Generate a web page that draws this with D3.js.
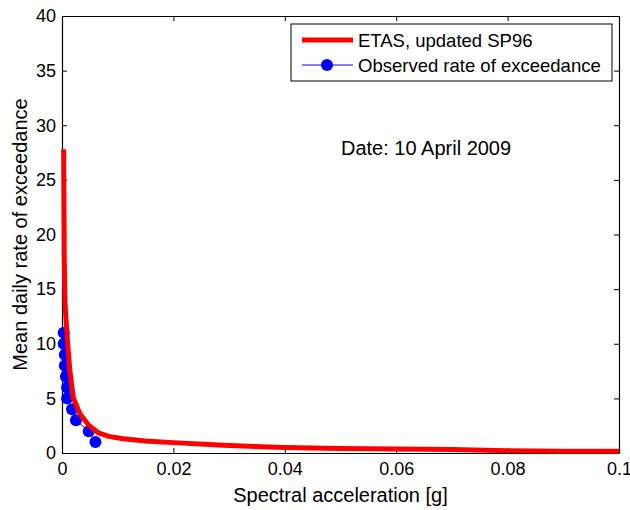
<!DOCTYPE html>
<html>
<head>
<meta charset="utf-8">
<script src="https://cdn.jsdelivr.net/npm/d3@7"></script>
<style>
  body { margin: 0; background: #fff; }
  text { font-family: "Liberation Sans", Arial, sans-serif; fill: #000; }
</style>
</head>
<body>
<script>
// ETAS curve (red)
const etasX = [0.0003, 0.0004, 0.00054, 0.00093, 0.0014, 0.002, 0.0032, 0.0047, 0.0065, 0.0086, 0.011, 0.015, 0.02, 0.029, 0.04, 0.05, 0.06, 0.07, 0.08, 0.09, 0.1];
const etasY = [27.8, 18, 13.7, 10.6, 7.6, 5.1, 3.6, 2.6, 1.85, 1.5, 1.3, 1.1, 0.95, 0.7, 0.5, 0.42, 0.36, 0.32, 0.2, 0.17, 0.15];

// observed rate (blue points)
const obsX = [0.0003, 0.0003, 0.0005, 0.0005, 0.0007, 0.0009, 0.0009, 0.0018, 0.0025, 0.0048, 0.006];
const obsY = [11, 10, 9, 8, 7, 6, 5, 4, 3, 2, 1];

const xTicks = [0, 0.02, 0.04, 0.06, 0.08, 0.1];
const yTicks = [0, 5, 10, 15, 20, 25, 30, 35, 40];

const seriesNames = ["ETAS, updated SP96", "Observed rate of exceedance"];
const dateLabel = "Date: 10 April 2009";

const W = 630, H = 510;
const MARGIN = { TOP: 16, BOTTOM: 57, LEFT: 62, RIGHT: 11 };

const svg = d3.select("body").append("svg")
    .attr("width", W)
    .attr("height", H);

const x = d3.scaleLinear().domain([0, 0.1]).range([MARGIN.LEFT, W - MARGIN.RIGHT]);
const y = d3.scaleLinear().domain([0, 40]).range([H - MARGIN.BOTTOM, MARGIN.TOP]);

const fmtX = d => d === 0 ? "0" : String(+d.toFixed(2));

// axes, ticks pointing inward (box like matlab)
const tickLen = 5;
svg.append("g")
    .attr("transform", `translate(0,${y(0)})`)
    .call(d3.axisBottom(x).tickValues(xTicks).tickSize(-tickLen).tickSizeOuter(0).tickPadding(9).tickFormat(fmtX));
svg.append("g")
    .attr("transform", `translate(0,${y(40)})`)
    .call(d3.axisTop(x).tickValues(xTicks).tickSize(-tickLen).tickSizeOuter(0).tickFormat(""));
svg.append("g")
    .attr("transform", `translate(${x(0)},0)`)
    .call(d3.axisLeft(y).tickValues(yTicks).tickSize(-tickLen).tickSizeOuter(0).tickPadding(6));
svg.append("g")
    .attr("transform", `translate(${x(0.1)},0)`)
    .call(d3.axisRight(y).tickValues(yTicks).tickSize(-tickLen).tickSizeOuter(0).tickFormat(""));

svg.selectAll(".domain").attr("stroke", "#000").attr("stroke-width", 1.2);
svg.selectAll(".tick line").attr("stroke", "#000");
svg.selectAll(".tick text")
    .style("font-family", "Liberation Sans, Arial, sans-serif")
    .style("font-size", "18px")
    .attr("fill", "#000");

// blue observed line + markers
const obs = obsX.map((v, i) => [v, obsY[i]]);
svg.append("path")
    .datum(obs)
    .attr("fill", "none")
    .attr("stroke", "#0000ff")
    .attr("stroke-width", 1)
    .attr("d", d3.line().x(d => x(d[0])).y(d => y(d[1])));
svg.append("g").selectAll("circle")
    .data(obs)
    .enter()
    .append("circle")
    .attr("cx", d => x(d[0]))
    .attr("cy", d => y(d[1]))
    .attr("r", 6)
    .attr("fill", "#0000ff");

// red ETAS line
const etas = etasX.map((v, i) => [v, etasY[i]]);
svg.append("path")
    .datum(etas)
    .attr("fill", "none")
    .attr("stroke", "#ff0000")
    .attr("stroke-width", 5)
    .attr("stroke-linejoin", "round")
    .attr("d", d3.line().x(d => x(d[0])).y(d => y(d[1])));

// axis labels
svg.append("text")
    .attr("x", (x(0) + x(0.1)) / 2)
    .attr("y", 502)
    .attr("text-anchor", "middle")
    .style("font-size", "20px")
    .text("Spectral acceleration [g]");
svg.append("text")
    .attr("transform", `translate(27,${(y(0) + y(40)) / 2}) rotate(-90)`)
    .attr("text-anchor", "middle")
    .style("font-size", "20px")
    .text("Mean daily rate of exceedance");

// date annotation
svg.append("text")
    .attr("x", 341)
    .attr("y", 155)
    .style("font-size", "20px")
    .text(dateLabel);

// legend
const leg = svg.append("g");
leg.append("rect")
    .attr("x", 291).attr("y", 24)
    .attr("width", 321).attr("height", 57)
    .attr("fill", "#fff").attr("stroke", "#000").attr("stroke-width", 1);
leg.append("line")
    .attr("x1", 302).attr("x2", 353).attr("y1", 40).attr("y2", 40)
    .attr("stroke", "#ff0000").attr("stroke-width", 5);
leg.append("text").attr("x", 358).attr("y", 47).style("font-size", "18.5px").text(seriesNames[0]);
leg.append("line")
    .attr("x1", 302).attr("x2", 353).attr("y1", 65).attr("y2", 65)
    .attr("stroke", "#0000ff").attr("stroke-width", 1);
leg.append("circle").attr("cx", 327).attr("cy", 65).attr("r", 6).attr("fill", "#0000ff");
leg.append("text").attr("x", 358).attr("y", 72).style("font-size", "18.5px").text(seriesNames[1]);
</script>
</body>
</html>
